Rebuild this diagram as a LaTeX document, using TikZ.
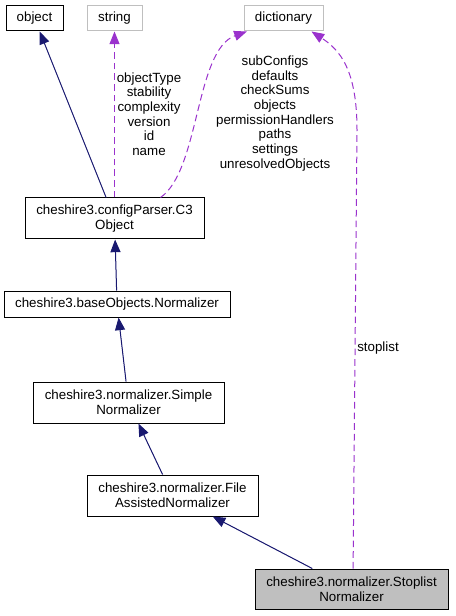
\documentclass[tikz,border=0pt]{standalone}
\usepackage{fontspec}
\setmainfont{Liberation Sans}
\usetikzlibrary{arrows.meta}
\definecolor{navyedge}{HTML}{191970}
\definecolor{purpedge}{HTML}{9A32CD}
\definecolor{grayborder}{HTML}{BFBFBF}
\begin{document}
\begin{tikzpicture}[x=0.75pt,y=-0.75pt,
  font=\fontsize{10pt}{11pt}\selectfont,
  cls/.style={draw=black,line width=0.75pt,inner sep=0pt,align=center,fill=white},
  ext/.style={draw=grayborder,line width=0.75pt,inner sep=0pt,align=center,fill=white},
  inh/.style={draw=navyedge,line width=0.75pt,-{Triangle[length=9.5pt,width=7.5pt]},fill=navyedge},
  use/.style={draw=purpedge,line width=0.75pt,dash pattern=on 5pt off 3pt,-{Triangle[length=9.5pt,width=7.5pt,fill=purpedge]}},
  lbl/.style={align=center,inner sep=0pt}]
\useasboundingbox (0,0) rectangle (455,616);
\node[cls,minimum width=42.75pt,minimum height=18.75pt] (object) at (34.5,18.5) {object};
\node[ext,minimum width=41.25pt,minimum height=18.75pt] (string) at (114.5,18.5) {string};
\node[ext,minimum width=59.25pt,minimum height=18.75pt] (dict) at (283.5,18.5) {dictionary};
\node[cls,minimum width=134.25pt,minimum height=30.75pt] (c3) at (114.5,218.5) {cheshire3.configParser.C3\\Object};
\node[cls,minimum width=169.5pt,minimum height=19.5pt] (base) at (117,304) {cheshire3.baseObjects.Normalizer};
\node[cls,minimum width=143.25pt,minimum height=30.75pt] (simple) at (128.5,402.5) {cheshire3.normalizer.Simple\\Normalizer};
\node[cls,minimum width=128.25pt,minimum height=30.75pt] (file) at (172.5,495.5) {cheshire3.normalizer.File\\AssistedNormalizer};
\node[cls,fill=grayborder,minimum width=144.75pt,minimum height=30pt] (stop) at (351.5,589) {cheshire3.normalizer.Stoplist\\Normalizer};

\draw[inh] (c3) -- (object);
\draw[use] (c3) -- (string);
\draw[use] ([xshift=-33pt]c3.north east) .. controls (200,170) and (195,50) .. ([xshift=2.5pt]dict.south west);
\draw[use] ([xshift=1.2pt]stop.north) -- (357,130) .. controls (357,70) and (340,50) .. ([xshift=-9pt]dict.south east);
\draw[inh] (base) -- (c3);
\draw[inh] (simple) -- (base);
\draw[inh] (file) -- (simple);
\draw[inh] (stop) -- (file);

\node[lbl] (lstring) at (149,114) {objectType\\stability\\complexity\\version\\id\\name};
\node[lbl] (ldict) at (275,113.5) {subConfigs\\defaults\\checkSums\\objects\\permissionHandlers\\paths\\settings\\unresolvedObjects};
\node[lbl,anchor=west] (lstop) at (357,348) {stoplist};
\end{tikzpicture}
\end{document}
